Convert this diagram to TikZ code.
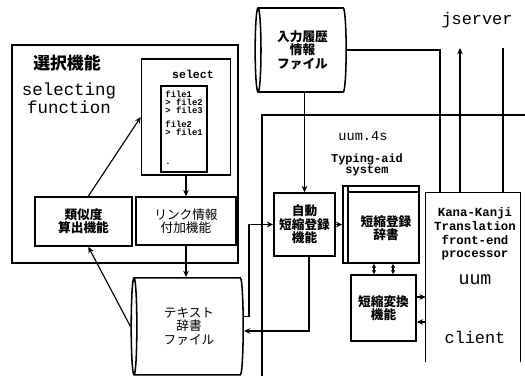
\documentclass[tikz,border=0pt]{standalone}
\usepackage{fontspec}
\setmonofont{Liberation Mono}
\newfontfamily\jp{Noto Sans CJK JP}
\usetikzlibrary{arrows.meta,shapes.geometric}

\begin{document}
\begin{tikzpicture}[
    func/.style={draw=black, line width=1.1pt, inner sep=0pt, align=center, font=\jp\bfseries\fontsize{9}{9.5}\selectfont},
    file/.style={cylinder, shape border rotate=180, aspect=0.15, draw=black, line width=1.1pt, inner sep=0pt, align=center, font=\jp\bfseries\fontsize{9}{9.5}\selectfont},
    ttlabel/.style={font=\ttfamily\fontsize{#1}{#1}\selectfont},
    link/.style={line width=0.8pt},
    >={Stealth[length=4.5pt,width=4pt]}
]
    \useasboundingbox (0,0) rectangle (13.125,9.4);

    % Selecting function frame
    \node[draw, line width=1.8pt, minimum width=5.65cm, minimum height=5.45cm] (selframe) at (3.125,5.55) {};
    \node[font=\jp\bfseries\fontsize{12}{14}\selectfont] (seljp) at (1.675,7.825) {選択機能};
    \node[align=center, font=\ttfamily\fontsize{12.4}{12.8}\selectfont] (selen) at (1.725,6.95) {selecting\\function};

    % select file with its list
    \node[file, minimum height=2.225cm, minimum width=2.9cm] (select) at (4.66,6.475) {};
    \node[font=\ttfamily\bfseries\fontsize{8.2}{9}\selectfont] (selname) at (4.825,7.55) {select};
    \node[draw, line width=1pt, minimum width=1.15cm, minimum height=2.15cm] (sellist) at (4.6,6.175) {};
    \node[anchor=north west, inner sep=0pt, align=left, font=\ttfamily\bfseries\fontsize{6.3}{4.4}\selectfont] (files) at (4.13,7.13)
        {file1\\> file2\\> file3\\[4pt]file2\\> file1\\[16pt].};

    % Function boxes inside the frame
    \node[func, minimum width=2.425cm, minimum height=1.225cm] (sim) at (2.0875,3.8625) {類似度\\算出機能};
    \node[func, minimum width=2.5cm, minimum height=1.2cm, font=\jp\fontsize{9}{9.5}\selectfont] (link) at (4.65,3.875) {リンク情報\\付加機能};

    % Text dictionary file
    \node[file, minimum height=2.8cm, minimum width=2.425cm, font=\jp\fontsize{9}{9.5}\selectfont] (textdb) at (4.725,1.24) {テキスト\\辞書\\ファイル};

    % Input history file
    \node[file, minimum height=2.275cm, minimum width=2.1cm] (hist) at (7.5625,8.15) {入力履歴\\情報\\ファイル};

    % uum.4s region border
    \draw[line width=1.8pt] (6.55,0) |- (13.125,6.525);
    \node[ttlabel=9.7] (uumfs) at (9.075,6.0) {uum.4s};
    \node[align=center, font=\ttfamily\bfseries\fontsize{8.5}{8}\selectfont] (aid) at (9.175,5.275) {Typing-aid\\system};

    % Typing-aid boxes
    \node[func, minimum width=1.525cm, minimum height=1.575cm] (auto) at (7.6125,3.7875) {自動\\短縮登録\\機能};
    \node[func, minimum width=1.9cm, minimum height=1.925cm] (dict) at (9.525,3.7875) {};
    \draw[line width=1.1pt] ([xshift=0.15cm]dict.north west) -- ([xshift=0.15cm]dict.south west);
    \draw[line width=1.1pt] ([xshift=0.15cm,yshift=-0.175cm]dict.north west) -- ([yshift=-0.175cm]dict.north east);
    \node[font=\jp\bfseries\fontsize{9}{9.5}\selectfont, align=center] (dictname) at (9.65,3.7) {短縮登録\\辞書};
    \node[func, minimum width=1.625cm, minimum height=1.65cm] (conv) at (9.5875,1.7) {短縮変換\\機能};

    % Front-end processor (open at the bottom)
    \node[minimum width=2.35cm, minimum height=4.225cm] (fep) at (11.825,2.4625) {};
    \draw[line width=0.9pt] (fep.south west) |- (fep.north east) -- (fep.south east);
    \node[align=center, font=\ttfamily\bfseries\fontsize{8.8}{9.8}\selectfont] (fepname) at (11.875,3.55) {Kana-Kanji\\Translation\\front-end\\processor};
    \node[ttlabel=13] (uum) at (11.875,2.4) {uum};
    \node[ttlabel=12] (client) at (11.875,0.975) {client};

    % jserver side
    \node[ttlabel=12] (jserver) at (11.925,8.9) {jserver};
    \coordinate (js1) at (11.5,8.2);
    \coordinate (js2) at (12.575,8.2);

    % Connectors in the selecting function
    \draw[link, ->] (link.north |- select.south) -- (link.north);
    \draw[link, ->] (link.south) -- (link.south |- textdb.north);
    \draw[link, ->] ([xshift=0.12cm]sim.north) -- (select.west);
    \draw[link, ->] (textdb.west) -- ([xshift=0.12cm]sim.south);

    % Connectors in uum
    \draw[link, ->] ([yshift=0.24cm]textdb.east) -- ++(0.125,0) |- (auto.west);
    \draw[link, ->] ([xshift=0.1125cm]auto.south) |- ([yshift=-0.115cm]textdb.east);
    \draw[link, ->] (auto.north |- hist.south) -- (auto.north);
    \draw[link, ->] (auto.east) -- (dict.west);
    \foreach \dx in {-0.175,0.3}
        \draw[link, {Stealth[length=3pt,width=3pt]}-{Stealth[length=3pt,width=3pt]}] ([xshift=\dx cm]dict.south) -- ([xshift=\dx cm]dict.south |- conv.north);
    \draw[link, ->] ([yshift=0.275cm]conv.east) -- ([yshift=0.275cm]conv.east -| fep.west);
    \draw[link, <-] ([yshift=-0.35cm]conv.east) -- ([yshift=-0.35cm]conv.east -| fep.west);

    % Connectors to the history file and jserver
    \draw[link] (hist.east) -| ([xshift=-0.825cm]fep.north);
    \draw[link, ->] (fep.north -| js1) -- (js1);
    \draw[link] (fep.north -| js2) -- (js2);
\end{tikzpicture}
\end{document}
